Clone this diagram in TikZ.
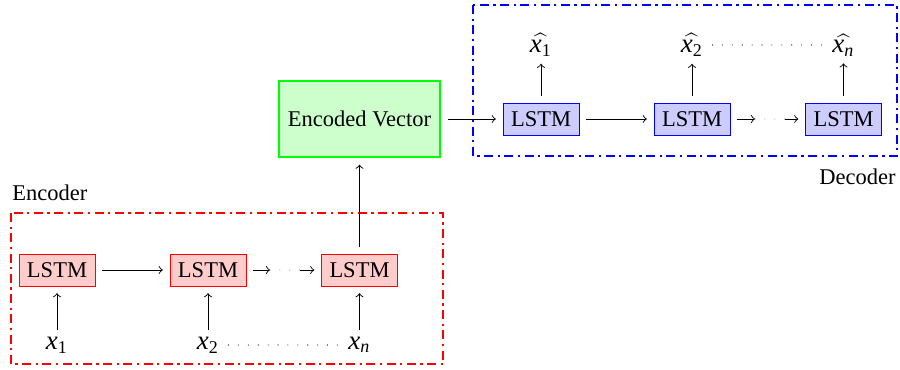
\documentclass[tikz,border=0pt]{standalone}
\usepackage{fontspec}
\setmainfont{Liberation Serif}
\newcommand\xv[1]{\mbox{\large\textit{x}}_{\mbox{\footnotesize #1}}}
\tikzset{
  enc/.style={draw=red, fill=red!20, minimum width=33.8pt, minimum height=14.2pt, inner sep=0pt},
  dec/.style={draw=blue, fill=blue!20, minimum width=33.8pt, minimum height=14.2pt, inner sep=0pt},
  vec/.style={draw=green, fill=green!20, thick, minimum width=71.6pt, minimum height=33.8pt, inner sep=0pt},
  arr/.style={->, shorten >=3pt, shorten <=3pt},
  grp/.style={thick, dash pattern=on 4pt off 2pt on 1pt off 2pt},
  lbl/.style={inner sep=0pt},
  sparse/.style={line cap=round, dash pattern=on 0pt off 4.4pt, line width=0.5pt},
}
\begin{document}
\begin{tikzpicture}[x=0.4444pt,y=-0.4444pt]
\useasboundingbox (0,0) rectangle (900,369);
% groups
\draw[grp, red] (11,213) rectangle (443,364);
\draw[grp, blue] (473,5) rectangle (897,156);
\node[anchor=base west, inner sep=0pt] (enclbl) at (12,200) {Encoder};
\node[anchor=base east, inner sep=0pt] (declbl) at (896,184) {Decoder};
% encoder
\node[enc] (e1) at (57,270) {LSTM};
\node[enc] (e2) at (208,270) {LSTM};
\node[enc] (e3) at (359.5,270) {LSTM};
\node[lbl] (x1) at (57,345) {$\xv{1}$};
\node[lbl] (x2) at (208,345) {$\xv{2}$};
\node[lbl] (xn) at (359.5,345) {$\xv{\itshape n}$};
\coordinate (ea) at (270,270);
\coordinate (eb) at (300,270);
\draw[arr] (e1) -- (e2);
\draw[->, shorten <=3pt] (e2.east) -- (ea);
\draw[sparse, gray] (ea) -- (eb);
\draw[->, shorten >=3pt] (eb) -- (e3.west);
\draw[arr] (x1) -- (e1);
\draw[arr] (x2) -- (e2);
\draw[arr] (xn) -- (e3);
\draw[sparse, shorten <=4pt, shorten >=4pt] (x2) -- (xn);
% vector
\node[vec] (v) at (359.5,119) {Encoded Vector};
\draw[arr] (e3) -- (v);
% decoder
\node[dec] (d1) at (541,119) {LSTM};
\node[dec] (d2) at (692,119) {LSTM};
\node[dec] (d3) at (843.5,119) {LSTM};
\node[lbl] (y1) at (541,45) {$\widehat{\xv{1}}$};
\node[lbl] (y2) at (692,45) {$\widehat{\xv{2}}$};
\node[lbl] (yn) at (843.5,45) {$\widehat{\xv{\itshape n}}$};
\coordinate (da) at (755,119);
\coordinate (db) at (785,119);
\draw[arr] (v) -- (d1);
\draw[arr] (d1) -- (d2);
\draw[->, shorten <=3pt] (d2.east) -- (da);
\draw[sparse, gray] (da) -- (db);
\draw[->, shorten >=3pt] (db) -- (d3.west);
\draw[arr] (d1) -- (y1);
\draw[arr] (d2) -- (y2);
\draw[arr] (d3) -- (yn);
\draw[sparse, shorten <=4pt, shorten >=4pt] (y2) -- (yn);
\end{tikzpicture}
\end{document}
